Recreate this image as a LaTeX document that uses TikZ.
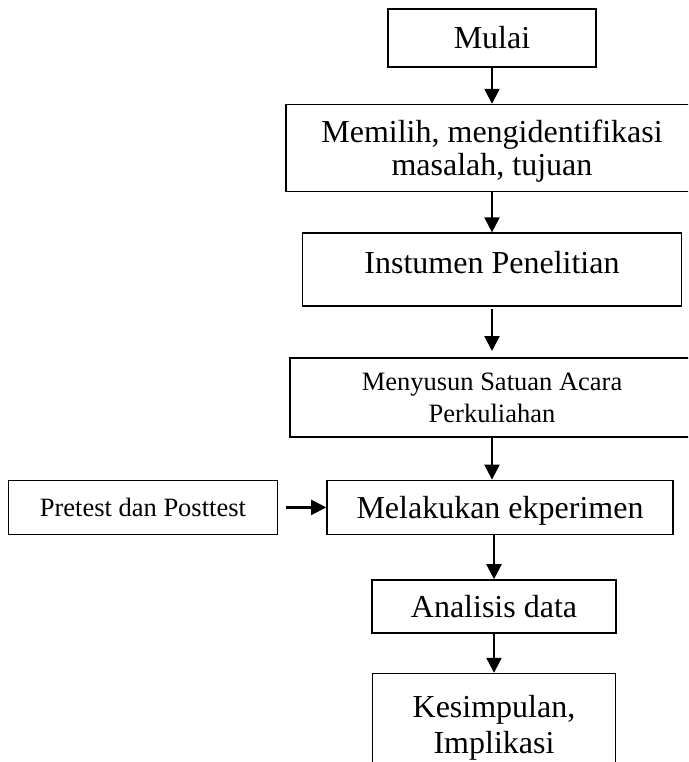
\documentclass[tikz,border=0pt]{standalone}
\usepackage{fontspec}
\setmainfont{Liberation Serif}
\usetikzlibrary{positioning, arrows.meta}

\begin{document}
\begin{tikzpicture}[
        node distance = 40pt and 48pt,
        box/.style = {rectangle, draw, line width=1.6pt, align=center, inner sep=0pt},
        big/.style = {font=\fontsize{32}{33}\selectfont},
        small/.style = {font=\fontsize{26.5}{32}\selectfont},
        arr/.style = {-{Triangle[length=15pt, width=15pt]}, line width=2.2pt}
    ]
        \useasboundingbox (0,0) rectangle (688pt,-762pt);
        \clip (0,0) rectangle (688pt,-762pt);

        % Main flow
        \node[box, big, minimum width=208pt, minimum height=58pt] (mulai) at (492pt,-38pt) {Mulai};
        \node[box, big, text depth=0pt, minimum width=412pt, minimum height=87pt, below=36pt of mulai] (memilih) {Memilih, mengidentifikasi\\masalah, tujuan};
        \node[box, big, text depth=15pt, minimum width=379pt, minimum height=73pt, below=40pt of memilih] (instumen) {Instumen Penelitian};
        \node[box, small, text depth=0pt, minimum width=404pt, minimum height=79pt, below=50pt of instumen] (menyusun) {Menyusun Satuan Acara\\Perkuliahan};
        \node[box, big, text depth=0pt, minimum width=346pt, minimum height=54pt, below=42pt of menyusun, xshift=8pt] (melakukan) {Melakukan ekperimen};
        \node[box, big, minimum width=244pt, minimum height=53pt, below=44pt of melakukan, xshift=-6pt] (analisis) {Analisis data};
        \node[box, font=\fontsize{32}{36}\selectfont, text depth=0pt, minimum width=243pt, minimum height=101pt, below=39pt of analisis] (kesimpulan) {Kesimpulan,\\Implikasi};

        % Side input
        \node[box, small, minimum width=269pt, minimum height=54pt, left=48pt of melakukan] (pretest) {Pretest dan Posttest};

        % Arrows
        \draw[arr] (mulai) -- (memilih);
        \draw[arr] (memilih) -- (instumen);
        \draw[arr, shorten <=2pt, shorten >=6pt] (instumen) -- (menyusun);
        \draw[arr] (menyusun) -- (menyusun |- melakukan.north);
        \draw[arr] (analisis |- melakukan.south) -- (analisis);
        \draw[arr] (analisis) -- (kesimpulan);
        \draw[arr, shorten <=8pt] (pretest) -- (melakukan);
    \end{tikzpicture}
\end{document}
